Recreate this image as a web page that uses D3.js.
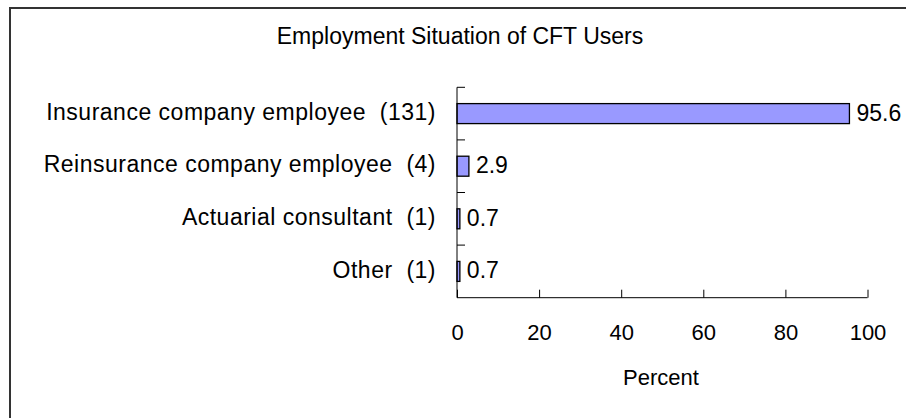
<!DOCTYPE html>
<html>
<head>
<meta charset="utf-8">
<script src="https://cdn.jsdelivr.net/npm/d3@7"></script>
<style>
  body { margin: 0; background: #fff; }
  text { font-family: "Liberation Sans", Arial, sans-serif; fill: #000; }
</style>
</head>
<body>
<svg id="drawing_region"></svg>
<script>
const categories = [
    "Insurance company employee  (131)",
    "Reinsurance company employee  (4)",
    "Actuarial consultant  (1)",
    "Other  (1)"
];
const percents = [95.6, 2.9, 0.7, 0.7];
const xticks = [0, 20, 40, 60, 80, 100];

const width = 906, height = 418;
const plot = { left: 457, right: 867.5, top: 87.3, bottom: 297.7 };

const svg = d3.select('#drawing_region')
    .attr('width', width)
    .attr('height', height);

// outer frame (runs off the right and bottom edges)
svg.append('rect')
    .attr('x', 10).attr('y', 8)
    .attr('width', 910).attr('height', 420)
    .attr('fill', 'none')
    .attr('stroke', '#333')
    .attr('stroke-width', 2);

svg.append('text')
    .attr('x', 460).attr('y', 44)
    .attr('text-anchor', 'middle')
    .style('font-size', '23px')
    .text('Employment Situation of CFT Users');

const xscale = d3.scaleLinear().domain([0, 100]).range([plot.left, plot.right]);
const yscale = d3.scaleBand().domain(categories).range([plot.top, plot.bottom])
    .paddingInner(0.62).paddingOuter(0.31);

// bars
svg.selectAll('rect.bar')
    .data(categories)
    .join('rect')
    .attr('class', 'bar')
    .attr('x', xscale(0))
    .attr('y', d => yscale(d))
    .attr('width', (d, i) => xscale(percents[i]) - xscale(0))
    .attr('height', yscale.bandwidth())
    .attr('fill', '#9999ff')
    .attr('stroke', '#000')
    .attr('stroke-width', 1.3);

// value labels
svg.selectAll('text.val')
    .data(categories)
    .join('text')
    .attr('class', 'val')
    .attr('x', (d, i) => xscale(percents[i]) + 7)
    .attr('y', d => yscale(d) + yscale.bandwidth() / 2)
    .attr('dy', '0.3em')
    .style('font-size', '23px')
    .text((d, i) => percents[i]);

// category labels
svg.selectAll('text.cat')
    .data(categories)
    .join('text')
    .attr('class', 'cat')
    .attr('x', 436)
    .attr('y', d => yscale(d) + yscale.bandwidth() / 2)
    .attr('dy', '0.27em')
    .attr('text-anchor', 'end')
    .style('font-size', '23px')
    .style('letter-spacing', '0.5px')
    .style('white-space', 'pre')
    .text(d => d);

// y axis with inward ticks at band edges
const edges = categories.map((d, i) => plot.top + i * yscale.step());
const yg = svg.append('g');
yg.append('line')
    .attr('x1', plot.left).attr('x2', plot.left)
    .attr('y1', plot.top).attr('y2', plot.bottom)
    .attr('stroke', '#000');
yg.selectAll('line.tick')
    .data(edges)
    .join('line')
    .attr('class', 'tick')
    .attr('x1', plot.left).attr('x2', plot.left + 8)
    .attr('y1', d => d).attr('y2', d => d)
    .attr('stroke', '#000');

// x axis
const xaxis = d3.axisBottom(xscale)
    .tickValues(xticks)
    .tickSize(-8)
    .tickPadding(27)
    .tickFormat(d3.format('d'));
const xg = svg.append('g')
    .attr('transform', `translate(0, ${plot.bottom})`)
    .call(xaxis);
xg.select('.domain').attr('d', `M${plot.left},0H${plot.right}`);
xg.selectAll('text').style('font-size', '22px').attr('fill', '#000');
xg.selectAll('line').attr('stroke', '#000');

svg.append('text')
    .attr('x', 661).attr('y', 385)
    .attr('text-anchor', 'middle')
    .style('font-size', '22px')
    .text('Percent');
</script>
</body>
</html>
